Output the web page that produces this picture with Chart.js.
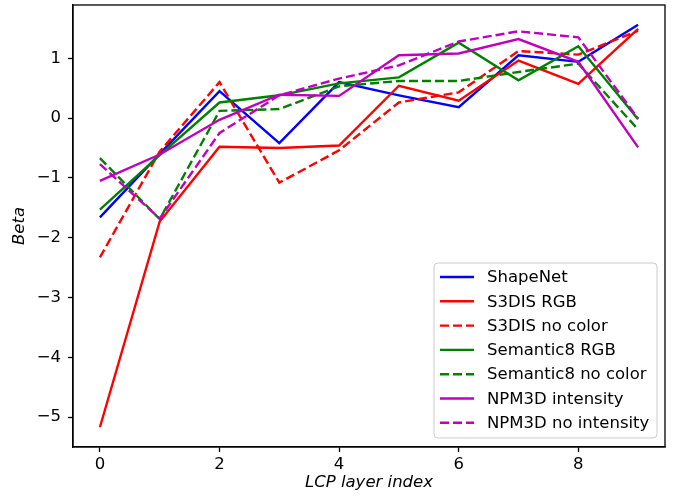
<!DOCTYPE html>
<html>
<head>
<meta charset="utf-8">
<script src="https://cdn.jsdelivr.net/npm/chart.js@4.4.0/dist/chart.umd.min.js"></script>
<style>
  html, body { margin: 0; padding: 0; background: #fff; }
  #wrap { width: 674px; height: 497px; }
</style>
</head>
<body>
<div id="wrap"><canvas id="beta-chart" width="674" height="497"></canvas></div>
<script>
// layer index on x, beta on y
var layers = [0, 1, 2, 3, 4, 5, 6, 7, 8, 9];
var xTicks = [0, 2, 4, 6, 8];
var yTicks = [-5, -4, -3, -2, -1, 0, 1];

var shapeNet     = [-1.66, -0.60, 0.45, -0.42, 0.60, 0.38, 0.18, 1.05, 0.94, 1.56];
var s3disRgb     = [-5.17, -1.73, -0.48, -0.50, -0.46, 0.54, 0.29, 0.96, 0.57, 1.49];
var s3disNoColor = [-2.33, -0.56, 0.60, -1.08, -0.54, 0.26, 0.43, 1.12, 1.06, 1.46];
var sem8Rgb      = [-1.53, -0.62, 0.26, 0.38, 0.58, 0.68, 1.26, 0.63, 1.20, -0.02];
var sem8NoColor  = [-0.67, -1.69, 0.12, 0.15, 0.53, 0.62, 0.62, 0.77, 0.91, -0.19];
var npmInt       = [-1.05, -0.61, -0.03, 0.39, 0.37, 1.05, 1.08, 1.32, 0.94, -0.49];
var npmNoInt     = [-0.77, -1.68, -0.25, 0.38, 0.66, 0.88, 1.28, 1.45, 1.35, -0.01];

var FONT = '"DejaVu Sans", sans-serif';
var FSIZE = 16.5;
var DASH = [9, 4];

function series(label, values, color, dashed, i) {
    return {
        label: label,
        data: values.map(function (v, k) { return { x: layers[k], y: v }; }),
        borderColor: color,
        borderWidth: 2.4,
        borderDash: dashed ? DASH : [],
        pointRadius: 0,
        tension: 0,
        fill: false,
        order: 10 - i // later series drawn on top, like matplotlib
    };
}

var datasets = [
    series('ShapeNet', shapeNet, '#0000ff', false, 0),
    series('S3DIS RGB', s3disRgb, '#ff0000', false, 1),
    series('S3DIS no color', s3disNoColor, '#ff0000', true, 2),
    series('Semantic8 RGB', sem8Rgb, '#008000', false, 3),
    series('Semantic8 no color', sem8NoColor, '#008000', true, 4),
    series('NPM3D intensity', npmInt, '#bf00bf', false, 5),
    series('NPM3D no intensity', npmNoInt, '#bf00bf', true, 6)
];

// frame, axis titles and the legend box
var extras = {
    id: 'extras',
    afterDatasetsDraw: function (chart) {
        var ctx = chart.ctx, a = chart.chartArea;
        ctx.save();
        ctx.strokeStyle = '#000';
        ctx.lineWidth = 1.3;
        ctx.setLineDash([]);
        ctx.strokeRect(a.left, a.top, a.right - a.left, a.bottom - a.top);

        // legend
        var lx = 434, ly = 263, lw = 223, lh = 175, r = 4;
        ctx.beginPath();
        ctx.moveTo(lx + r, ly);
        ctx.arcTo(lx + lw, ly, lx + lw, ly + lh, r);
        ctx.arcTo(lx + lw, ly + lh, lx, ly + lh, r);
        ctx.arcTo(lx, ly + lh, lx, ly, r);
        ctx.arcTo(lx, ly, lx + lw, ly, r);
        ctx.closePath();
        ctx.fillStyle = 'rgba(255,255,255,0.8)';
        ctx.fill();
        ctx.strokeStyle = '#cccccc';
        ctx.lineWidth = 1;
        ctx.stroke();

        ctx.font = FSIZE + 'px ' + FONT;
        ctx.textBaseline = 'middle';
        ctx.textAlign = 'left';
        chart.data.datasets.forEach(function (ds, i) {
            var y = 277 + i * 24.3;
            ctx.beginPath();
            ctx.setLineDash(ds.borderDash);
            ctx.strokeStyle = ds.borderColor;
            ctx.lineWidth = ds.borderWidth;
            ctx.moveTo(440, y);
            ctx.lineTo(474, y);
            ctx.stroke();
            ctx.setLineDash([]);
            ctx.fillStyle = '#000';
            ctx.fillText(ds.label, 487, y + 1);
        });

        // axis titles
        ctx.font = 'italic ' + FSIZE + 'px ' + FONT;
        ctx.fillStyle = '#000';
        ctx.textAlign = 'center';
        ctx.textBaseline = 'middle';
        ctx.fillText('LCP layer index', (a.left + a.right) / 2, 483);
        ctx.translate(20, (a.top + a.bottom) / 2);
        ctx.rotate(-Math.PI / 2);
        ctx.fillText('Beta', 0, 0);
        ctx.restore();
    }
};

var ctx = document.getElementById('beta-chart').getContext('2d');
var chart = new Chart(ctx, {
    type: 'line',
    data: { datasets: datasets },
    options: {
        responsive: false,
        animation: false,
        devicePixelRatio: 1,
        layout: { padding: { top: 5, right: 9, left: 0, bottom: 0 } },
        plugins: { legend: { display: false }, tooltip: { enabled: false } },
        scales: {
            x: {
                type: 'linear',
                min: -0.45,
                max: 9.45,
                afterBuildTicks: function (s) { s.ticks = xTicks.map(function (v) { return { value: v }; }); },
                afterFit: function (s) { s.height = 50; s.paddingLeft = 0; s.paddingRight = 0; },
                grid: { drawOnChartArea: false, drawTicks: true, tickLength: 5, tickColor: '#000', tickWidth: 1.3 },
                border: { color: '#000', width: 1.3 },
                ticks: { color: '#000', font: { family: FONT, size: FSIZE }, padding: 3, maxRotation: 0, autoSkip: false }
            },
            y: {
                min: -5.5,
                max: 1.89,
                afterBuildTicks: function (s) { s.ticks = yTicks.map(function (v) { return { value: v }; }); },
                afterFit: function (s) { s.width = 73; s.paddingTop = 0; s.paddingBottom = 0; },
                grid: { drawOnChartArea: false, drawTicks: true, tickLength: 5, tickColor: '#000', tickWidth: 1.3 },
                border: { color: '#000', width: 1.3 },
                ticks: {
                    color: '#000', font: { family: FONT, size: FSIZE }, padding: 7, autoSkip: false,
                    callback: function (v) { return v < 0 ? '\u2212' + Math.abs(v) : String(v); }
                }
            }
        }
    },
    plugins: [extras]
});
</script>
</body>
</html>
